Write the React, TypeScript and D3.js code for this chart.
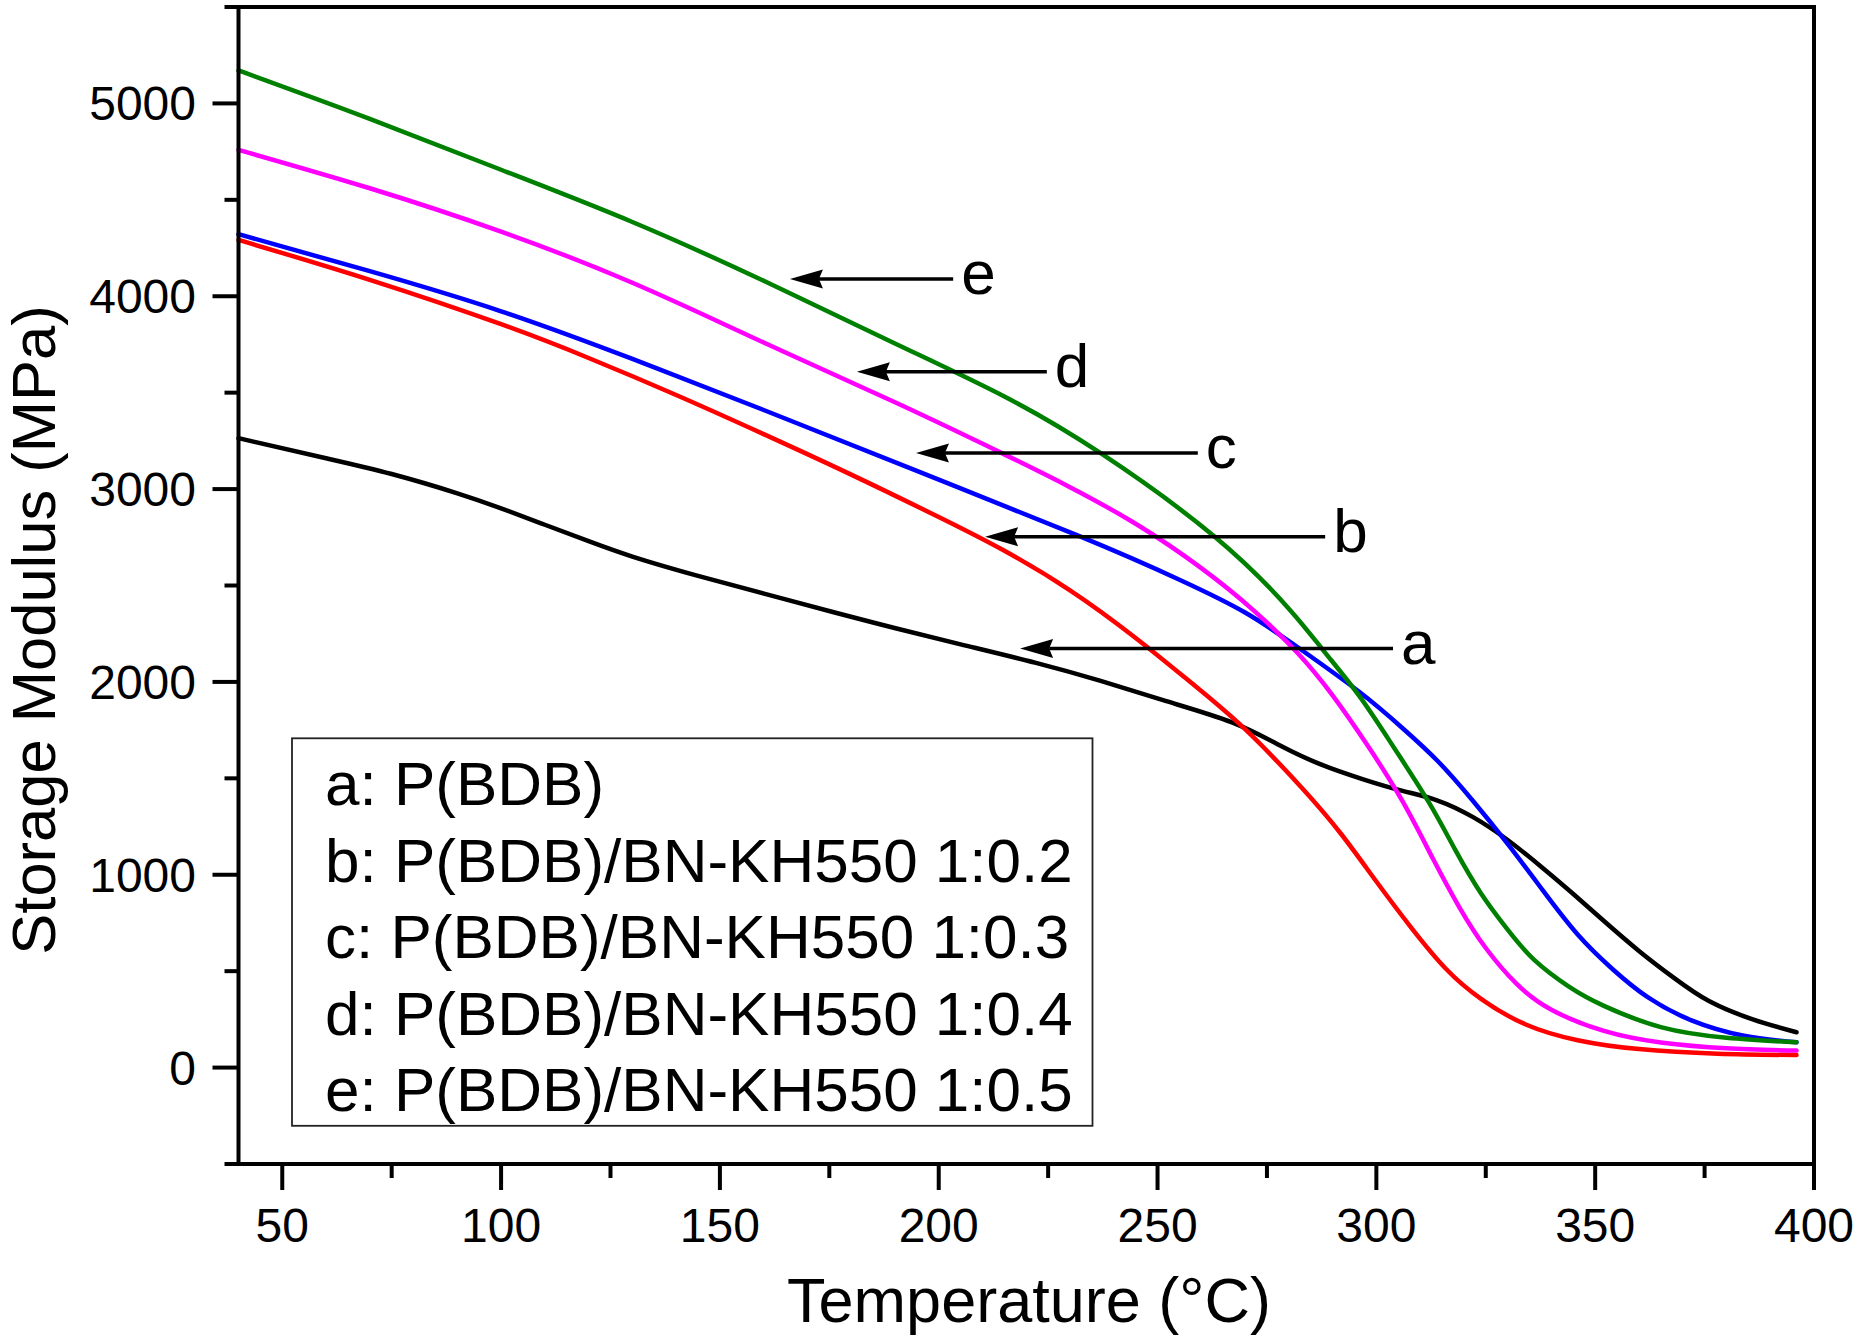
import React from "react";
import * as d3 from "d3";

// ---- data (Temperature °C, Storage Modulus MPa) ----
const seriesA_T = [40, 60, 75, 90, 100, 110, 120, 130, 145, 165, 185, 205, 222, 237, 252, 267, 278, 287, 297, 306, 314, 322, 330, 338, 345, 352, 360, 368, 376, 386, 396];
const seriesA_V = [3264, 3160, 3078, 2978, 2900, 2815, 2730, 2650, 2550, 2428, 2308, 2195, 2100, 2005, 1900, 1790, 1670, 1575, 1495, 1435, 1385, 1300, 1180, 1035, 900, 760, 605, 465, 345, 250, 183];

const seriesB_T = [40, 70, 100, 120, 140, 160, 180, 200, 215, 230, 245, 258, 270, 283, 292, 300, 308, 316, 324, 334, 346, 360, 378, 396];
const seriesB_V = [4292, 4085, 3855, 3680, 3488, 3285, 3075, 2855, 2680, 2475, 2228, 1990, 1755, 1450, 1210, 965, 725, 510, 355, 225, 142, 96, 72, 65];

const seriesC_T = [40, 70, 100, 130, 160, 195, 232, 255, 270, 282, 296, 306, 314, 322, 330, 338, 346, 354, 362, 372, 384, 396];
const seriesC_V = [4322, 4130, 3922, 3675, 3410, 3094, 2757, 2530, 2360, 2180, 1950, 1760, 1590, 1385, 1160, 920, 690, 510, 365, 245, 165, 131];

const seriesD_T = [40, 70, 100, 130, 160, 190, 215, 230, 245, 260, 272, 282, 290, 298, 306, 313, 319, 325, 332, 340, 352, 365, 380, 396];
const seriesD_V = [4759, 4560, 4335, 4070, 3760, 3450, 3180, 3010, 2820, 2590, 2370, 2150, 1930, 1670, 1380, 1080, 830, 620, 435, 300, 190, 130, 100, 88];

const seriesE_T = [40, 70, 100, 130, 160, 190, 215, 237, 263, 280, 288, 296, 304, 312, 318, 324, 330, 336, 344, 352, 365, 380, 396];
const seriesE_V = [5171, 4920, 4656, 4385, 4080, 3755, 3480, 3186, 2754, 2380, 2160, 1930, 1660, 1375, 1130, 900, 715, 560, 420, 320, 210, 155, 131];

const seriesKeys = ["a", "b", "c", "d", "e"];
const seriesColors = ["#000000", "#ff0000", "#0000ff", "#ff00ff", "#008000"];
const seriesTs = [seriesA_T, seriesB_T, seriesC_T, seriesD_T, seriesE_T];
const seriesVs = [seriesA_V, seriesB_V, seriesC_V, seriesD_V, seriesE_V];

const legendLabels = [
  "a: P(BDB)",
  "b: P(BDB)/BN-KH550 1:0.2",
  "c: P(BDB)/BN-KH550 1:0.3",
  "d: P(BDB)/BN-KH550 1:0.4",
  "e: P(BDB)/BN-KH550 1:0.5",
];

// arrow annotations: label, tip temperature, tail temperature, modulus level
const arrowLabels = ["e", "d", "c", "b", "a"];
const arrowTipT = [166.0, 181.3, 194.8, 210.6, 218.6];
const arrowTailT = [203.3, 224.7, 259.2, 288.3, 303.8];
const arrowV = [4090, 3609, 3187, 2753, 2173];

const xMajorTicks = [50, 100, 150, 200, 250, 300, 350, 400];
const xMinorTicks = [75, 125, 175, 225, 275, 325, 375];
const yMajorTicks = [0, 1000, 2000, 3000, 4000, 5000];
const yMinorTicks = [-500, 500, 1500, 2500, 3500, 4500, 5500];

const xTitle = "Temperature (°C)";
const yTitle = "Storage Modulus (MPa)";

const W = 1860;
const H = 1343;
const FONT = "'Liberation Sans', Arial, Helvetica, sans-serif";

export default function App() {
  const left = 238.5, right = 1814, top = 7, bottom = 1164;
  const x = d3.scaleLinear().domain([40, 400]).range([left, right]);
  const y = d3.scaleLinear().domain([-500, 5500]).range([bottom, top]);

  const line = d3
    .line<[number, number]>()
    .x((d) => x(d[0]))
    .y((d) => y(d[1]))
    .curve(d3.curveNatural);

  const axisW = 4;
  const majorLen = 26;
  const minorLen = 14;

  return (
    <svg
      width={W}
      height={H}
      viewBox={`0 0 ${W} ${H}`}
      style={{ position: "absolute", left: 0, top: 0, display: "block", background: "#fff" }}
      fontFamily={FONT}
    >
      <rect x={0} y={0} width={W} height={H} fill="#fff" />

      {/* curves */}
      {seriesKeys.map((k, i) => (
        <path
          key={k}
          d={line(seriesTs[i].map((t, j) => [t, seriesVs[i][j]] as [number, number])) || ""}
          fill="none"
          stroke={seriesColors[i]}
          strokeWidth={4.5}
          strokeLinejoin="round"
          strokeLinecap="round"
        />
      ))}

      {/* frame */}
      <line x1={left} x2={right} y1={top} y2={top} stroke="#000" strokeWidth={axisW} />
      <line x1={right} x2={right} y1={top - 2} y2={bottom} stroke="#000" strokeWidth={axisW} />
      <line x1={left} x2={left} y1={top - 2} y2={bottom + 2} stroke="#000" strokeWidth={axisW} />
      <line x1={left - 2} x2={right + 2} y1={bottom} y2={bottom} stroke="#000" strokeWidth={axisW} />

      {/* x ticks */}
      {xMajorTicks.map((t) => (
        <g key={"xM" + t}>
          <line x1={x(t)} x2={x(t)} y1={bottom} y2={bottom + majorLen} stroke="#000" strokeWidth={axisW} />
          <text x={x(t)} y={1242} fontSize={48} textAnchor="middle" fill="#000">
            {t}
          </text>
        </g>
      ))}
      {xMinorTicks.map((t) => (
        <line key={"xm" + t} x1={x(t)} x2={x(t)} y1={bottom} y2={bottom + minorLen} stroke="#000" strokeWidth={axisW} />
      ))}

      {/* y ticks */}
      {yMajorTicks.map((v) => (
        <g key={"yM" + v}>
          <line x1={left} x2={left - majorLen} y1={y(v)} y2={y(v)} stroke="#000" strokeWidth={axisW} />
          <text x={196} y={y(v) + 17} fontSize={48} textAnchor="end" fill="#000">
            {v}
          </text>
        </g>
      ))}
      {yMinorTicks.map((v) => (
        <line key={"ym" + v} x1={left} x2={left - minorLen} y1={y(v)} y2={y(v)} stroke="#000" strokeWidth={axisW} />
      ))}

      {/* axis titles */}
      <text x={1029} y={1322} fontSize={63} textAnchor="middle" fill="#000">
        {xTitle}
      </text>
      <text transform="translate(55,630) rotate(-90)" fontSize={61.5} textAnchor="middle" fill="#000">
        {yTitle}
      </text>

      {/* arrows */}
      {arrowLabels.map((lab, i) => {
        const yy = y(arrowV[i]);
        const tip = x(arrowTipT[i]);
        const tail = x(arrowTailT[i]);
        const headL = 33;
        const headH = 9.5;
        return (
          <g key={"arr" + lab}>
            <line x1={tip + headL - 4} x2={tail} y1={yy} y2={yy} stroke="#000" strokeWidth={3.5} />
            <path
              d={`M${tip},${yy} L${tip + headL},${yy - headH} L${tip + headL - 4},${yy} L${tip + headL},${yy + headH} Z`}
              fill="#000"
            />
            <text x={tail + 8} y={yy + 15} fontSize={62} fill="#000">
              {lab}
            </text>
          </g>
        );
      })}

      {/* legend */}
      <rect x={292} y={738.3} width={800.5} height={387.5} fill="#fff" stroke="#222" strokeWidth={1.8} />
      {legendLabels.map((lab, i) => (
        <text key={"lg" + i} x={325} y={805 + i * 76.5} fontSize={62} fill="#000">
          {lab}
        </text>
      ))}
    </svg>
  );
}
